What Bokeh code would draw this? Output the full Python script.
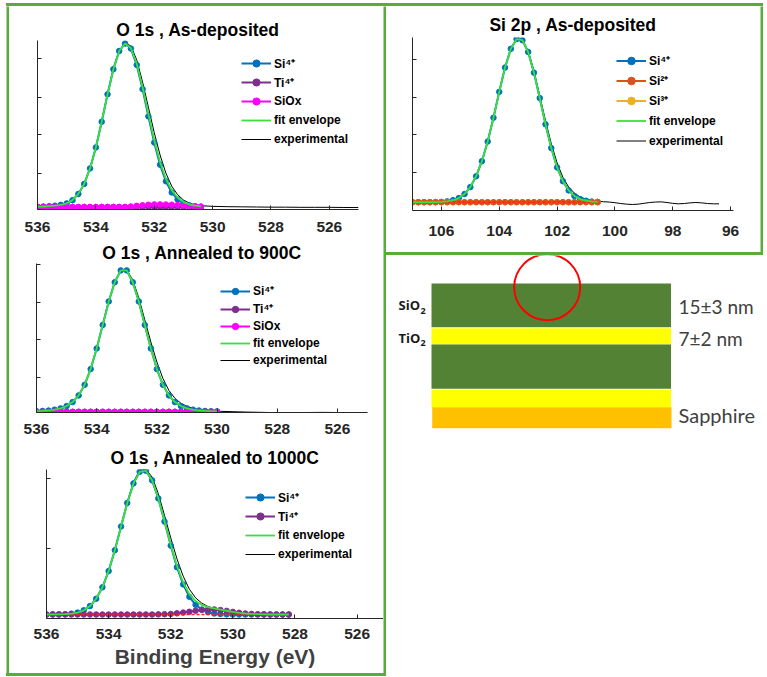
import numpy as np
from bokeh.plotting import figure
from bokeh.models import (Range1d, FixedTicker, CustomJSTickFormatter, Legend,
                          LegendItem, Spacer, Div)
from bokeh.layouts import row, column
from bokeh.embed import file_html
from bokeh.resources import INLINE
from bokeh.core.properties import value
from bokeh.core.validation import silence
from bokeh.core.validation.warnings import MISSING_RENDERERS

silence(MISSING_RENDERERS, True)

# ------------------------------------------------------------------ data
# O 1s, As-deposited
asdep_title = "O 1s , As-deposited"
asdep_be = [536.0, 535.8, 535.6, 535.4, 535.2, 535.0, 534.8, 534.6, 534.4, 534.2,
            534.0, 533.8, 533.6, 533.4, 533.2, 533.0, 532.8, 532.6, 532.4, 532.2,
            532.0, 531.8, 531.6, 531.4, 531.2, 531.0, 530.8, 530.6, 530.4]
asdep_si4 = [0.002, 0.003, 0.005, 0.008, 0.013, 0.022, 0.042, 0.080, 0.141, 0.236,
             0.364, 0.521, 0.689, 0.843, 0.954, 1.000, 0.969, 0.869, 0.721, 0.554,
             0.394, 0.259, 0.157, 0.089, 0.046, 0.022, 0.010, 0.004, 0.002]
asdep_ti4 = [0.0, 0.0, 0.0, 0.0, 0.0, 0.0, 0.0, 0.0, 0.0, 0.0,
             0.0, 0.0, 0.0, 0.0, 0.0, 0.0, 0.0, 0.0, 0.0, 0.0,
             0.0, 0.0, 0.0, 0.0, 0.0, 0.0, 0.0, 0.0, 0.0]
asdep_siox = [0.0, 0.0, 0.0, 0.0, 0.0, 0.0, 0.0, 0.0, 0.0, 0.0,
              0.0, 0.0, 0.0, 0.0, 0.0, 0.0, 0.003, 0.007, 0.011, 0.014,
              0.016, 0.016, 0.015, 0.014, 0.012, 0.009, 0.006, 0.004, 0.002]
asdep_exp_be = [536.0, 535.8, 535.6, 535.4, 535.2, 535.0, 534.8, 534.6, 534.4, 534.2,
                534.0, 533.8, 533.6, 533.4, 533.2, 533.0, 532.8, 532.6, 532.4, 532.2,
                532.0, 531.8, 531.6, 531.4, 531.2, 531.0, 530.8, 530.6, 530.4,
                530.0, 529.5, 529.0, 528.5, 528.0, 527.5, 527.0, 526.5, 526.0, 525.5, 525.0]
asdep_exp = [0.002, 0.003, 0.005, 0.008, 0.013, 0.022, 0.042, 0.080, 0.141, 0.236,
             0.364, 0.521, 0.690, 0.845, 0.957, 1.003, 0.985, 0.900, 0.765, 0.610,
             0.455, 0.318, 0.207, 0.127, 0.076, 0.043, 0.024, 0.013, 0.008,
             0.004, 0.002, 0.001, 0.000, -0.001, -0.001, -0.002, -0.002, -0.002, -0.003, -0.003]

# O 1s, Annealed to 900C
a900_title = "O 1s , Annealed to 900C"
a900_be = [536.0, 535.8, 535.6, 535.4, 535.2, 535.0, 534.8, 534.6, 534.4, 534.2,
           534.0, 533.8, 533.6, 533.4, 533.2, 533.0, 532.8, 532.6, 532.4, 532.2,
           532.0, 531.8, 531.6, 531.4, 531.2, 531.0, 530.8, 530.6, 530.4, 530.2, 530.0]
a900_si4 = [0.004, 0.006, 0.009, 0.015, 0.024, 0.040, 0.068, 0.115, 0.190, 0.300,
            0.445, 0.610, 0.775, 0.910, 0.993, 0.993, 0.910, 0.775, 0.610, 0.445,
            0.300, 0.190, 0.115, 0.068, 0.040, 0.024, 0.015, 0.009, 0.006, 0.004, 0.003]
a900_ti4 = [0.0, 0.0, 0.0, 0.0, 0.0, 0.0, 0.0, 0.0, 0.0, 0.0,
            0.0, 0.0, 0.0, 0.0, 0.0, 0.0, 0.0, 0.0, 0.0, 0.0,
            0.0, 0.0, 0.0, 0.0, 0.0, 0.0, 0.0, 0.0, 0.0, 0.0, 0.0]
a900_siox = [0.0, 0.0, 0.0, 0.0, 0.0, 0.0, 0.0, 0.0, 0.0, 0.0,
             0.0, 0.0, 0.0, 0.0, 0.0, 0.0, 0.0, 0.0, 0.0, 0.0,
             0.0, 0.0, 0.0, 0.0, 0.0, 0.0, 0.0, 0.0, 0.0, 0.0, 0.0]
a900_exp_be = [536.0, 535.8, 535.6, 535.4, 535.2, 535.0, 534.8, 534.6, 534.4, 534.2,
               534.0, 533.8, 533.6, 533.4, 533.2, 533.0, 532.8, 532.6, 532.4, 532.2,
               532.0, 531.8, 531.6, 531.4, 531.2, 531.0, 530.8, 530.6, 530.4, 530.2, 530.0,
               529.5, 529.0, 528.5, 528.0, 527.5, 527.0, 526.5, 526.0, 525.5, 525.0]
a900_exp = [0.004, 0.006, 0.009, 0.015, 0.024, 0.040, 0.068, 0.115, 0.190, 0.300,
            0.445, 0.610, 0.775, 0.910, 0.995, 0.998, 0.925, 0.800, 0.645, 0.490,
            0.350, 0.235, 0.150, 0.095, 0.060, 0.038, 0.024, 0.015, 0.009, 0.006, 0.004,
            0.001, -0.002, -0.004, -0.006, -0.006, -0.005, -0.004, -0.005, -0.006, -0.006]

# O 1s, Annealed to 1000C
a1000_title = "O 1s , Annealed to 1000C"
a1000_be = [536.0, 535.8, 535.6, 535.4, 535.2, 535.0, 534.8, 534.6, 534.4, 534.2,
            534.0, 533.8, 533.6, 533.4, 533.2, 533.0, 532.8, 532.6, 532.4, 532.2,
            532.0, 531.8, 531.6, 531.4, 531.2, 531.0, 530.8, 530.6, 530.4, 530.2,
            530.0, 529.8, 529.6, 529.4, 529.2, 529.0, 528.8, 528.6, 528.4, 528.2]
a1000_si4 = [0.000, 0.001, 0.001, 0.002, 0.006, 0.013, 0.029, 0.058, 0.109, 0.188,
             0.300, 0.444, 0.608, 0.771, 0.906, 0.986, 0.994, 0.927, 0.802, 0.642,
             0.476, 0.327, 0.208, 0.122, 0.067, 0.034, 0.016, 0.007, 0.003, 0.001,
             0.0, 0.0, 0.0, 0.0, 0.0, 0.0, 0.0, 0.0, 0.0, 0.0]
a1000_ti4 = [0.0, 0.0, 0.0, 0.0, 0.0, 0.0, 0.0, 0.0, 0.0, 0.0,
             0.0, 0.0, 0.0, 0.0, 0.0, 0.0, 0.0, 0.0, 0.001, 0.002,
             0.004, 0.008, 0.013, 0.019, 0.026, 0.032, 0.035, 0.035, 0.031, 0.025,
             0.018, 0.012, 0.007, 0.004, 0.002, 0.001, 0.0, 0.0, 0.0, 0.0]
a1000_bg = [0.0, 0.0, 0.0, 0.0, 0.0, 0.0, 0.0, 0.0, 0.0, 0.0,
            0.0, 0.0, 0.0, 0.0, 0.0, 0.0, 0.0, 0.0, 0.0, 0.0,
            0.0, 0.0, 0.0, 0.0, 0.0, 0.0, 0.0, 0.0, 0.0, 0.0,
            0.0, 0.0, 0.0, 0.0, 0.0, 0.0, 0.0, 0.0, 0.0, 0.0]
a1000_exp = [0.000, 0.001, 0.001, 0.002, 0.006, 0.013, 0.029, 0.058, 0.109, 0.188,
             0.300, 0.444, 0.608, 0.775, 0.915, 0.998, 1.004, 0.950, 0.835, 0.685,
             0.530, 0.385, 0.265, 0.175, 0.115, 0.078, 0.055, 0.041, 0.032, 0.025,
             0.019, 0.014, 0.010, 0.007, 0.005, 0.004, 0.003, 0.002, 0.001, 0.000]

# Si 2p, As-deposited
si2p_title = "Si 2p , As-deposited"
si2p_be = [107.0, 106.8, 106.6, 106.4, 106.2, 106.0, 105.8, 105.6, 105.4, 105.2,
           105.0, 104.8, 104.6, 104.4, 104.2, 104.0, 103.8, 103.6, 103.4, 103.2,
           103.0, 102.8, 102.6, 102.4, 102.2, 102.0, 101.8, 101.6, 101.4, 101.2,
           101.0, 100.8, 100.6]
si2p_si4 = [0.000, 0.000, 0.000, 0.000, 0.001, 0.002, 0.005, 0.012, 0.025, 0.050,
            0.092, 0.158, 0.250, 0.370, 0.515, 0.673, 0.821, 0.935, 0.995, 0.988,
            0.916, 0.790, 0.635, 0.475, 0.330, 0.212, 0.128, 0.072, 0.038, 0.019,
            0.009, 0.004, 0.002]
si2p_si2 = [0.0, 0.0, 0.0, 0.0, 0.0, 0.0, 0.0, 0.0, 0.0, 0.0,
            0.0, 0.0, 0.0, 0.0, 0.0, 0.0, 0.0, 0.0, 0.0, 0.0,
            0.0, 0.0, 0.0, 0.0, 0.0, 0.0, 0.0, 0.0, 0.0, 0.0,
            0.0, 0.0, 0.0]
si2p_si3 = [0.0, 0.0, 0.0, 0.0, 0.0, 0.0, 0.0, 0.0, 0.0, 0.0,
            0.0, 0.0, 0.0, 0.0, 0.0, 0.0, 0.0, 0.0, 0.0, 0.0,
            0.0, 0.0, 0.0, 0.0, 0.0, 0.0, 0.0, 0.0, 0.0, 0.0,
            0.0, 0.0, 0.0]
si2p_bg = [0.0, 0.0, 0.0, 0.0, 0.0, 0.0, 0.0, 0.0, 0.0, 0.0,
           0.0, 0.0, 0.0, 0.0, 0.0, 0.0, 0.0, 0.0, 0.0, 0.0,
           0.0, 0.0, 0.0, 0.0, 0.0, 0.0, 0.0, 0.0, 0.0, 0.0,
           0.0, 0.0, 0.0]
si2p_exp_be = [107.0, 106.8, 106.6, 106.4, 106.2, 106.0, 105.8, 105.6, 105.4, 105.2,
               105.0, 104.8, 104.6, 104.4, 104.2, 104.0, 103.8, 103.6, 103.4, 103.2,
               103.0, 102.8, 102.6, 102.4, 102.2, 102.0, 101.8, 101.6, 101.4, 101.2,
               101.0, 100.8, 100.6, 100.4, 100.2, 100.0, 99.8, 99.6, 99.4, 99.2,
               99.0, 98.8, 98.6, 98.4, 98.2, 98.0, 97.8, 97.6, 97.4, 97.2,
               97.0, 96.8, 96.6, 96.4]
si2p_exp = [0.000, 0.000, 0.000, 0.000, 0.001, 0.002, 0.005, 0.012, 0.025, 0.050,
            0.092, 0.158, 0.250, 0.370, 0.515, 0.673, 0.821, 0.935, 0.995, 0.990,
            0.922, 0.800, 0.648, 0.497, 0.356, 0.240, 0.152, 0.092, 0.055, 0.032,
            0.018, 0.010, 0.006, 0.003, 0.001, -0.003, -0.008, -0.012, -0.014, -0.012,
            -0.007, -0.002, 0.001, 0.002, -0.002, -0.007, -0.010, -0.008, -0.004, -0.002,
            -0.004, -0.008, -0.010, -0.010]

o1s_ticks = [536, 534, 532, 530, 528, 526]
si2p_ticks = [106, 104, 102, 100, 98, 96]
x_label = "Binding Energy (eV)"

# layer stack schematic
layer_names = ["SiO2", "TiO2", "SiO2", "TiO2", "Sapphire"]
layer_colors = ["#548235", "#FFFF00", "#548235", "#FFFF00", "#FFC000"]
stack_labels = ["SiO", "TiO"]
thickness_labels = ["15\u00b13 nm", "7\u00b12 nm"]
substrate_label = "Sapphire"

# ------------------------------------------------------------------ style
FONT = "Liberation Sans"
AX = "#262626"
FRAME_GREEN = "#58AC3A"
ENV = "#3CE03C"
BLUE = "#0072BD"
PURPLE = "#7E2F8E"
MAGENTA = "#FF00FF"
ORANGE = "#D95319"
YELLOW = "#EDB120"
RED = "#FF2020"
TICK_SIZE = "15.5px"


def no_align(fig):
    try:
        fig.frame_align = False
    except Exception:
        pass


def panel(title, be, comps, exp_be, exp_vals, xr, yr, xticks, yticks, w, h, mb,
          leg_xy, leg_gh, title_standoff, tick_standoff, draw_order=None, bg=None,
          xlabel=None):
    left, right, top, bottom = mb
    p = figure(width=w, height=h, x_range=Range1d(xr[0], xr[1]),
               y_range=Range1d(yr[0], yr[1]), output_backend="svg",
               toolbar_location=None, min_border_left=left, min_border_right=right,
               min_border_top=top, min_border_bottom=bottom)
    no_align(p)
    p.outline_line_color = None
    p.xgrid.visible = False
    p.ygrid.visible = False
    r_exp = p.line(exp_be, exp_vals, line_color="black", line_width=1)
    order = draw_order if draw_order is not None else list(range(len(comps)))
    rends = {}
    for i in order:
        name, vals, color = comps[i]
        rl = p.line(be, vals, line_color=color, line_width=2)
        rs = p.scatter(be, vals, marker="circle", size=5.5, fill_color=color,
                       line_color=color)
        rends[i] = [rl, rs]
    if bg is not None:
        p.line(be, bg, line_color=RED, line_width=1.5, line_dash="3 2")
    env = np.sum(np.array([np.array(c[1]) for c in comps]), axis=0)
    r_env = p.line(be, env.tolist(), line_color=ENV, line_width=1.8)

    items = [LegendItem(label=value(comps[i][0]), renderers=rends[i]) for i in range(len(comps))]
    items.append(LegendItem(label=value("fit envelope"), renderers=[r_env]))
    items.append(LegendItem(label=value("experimental"), renderers=[r_exp]))
    leg = Legend(items=items, location=leg_xy, glyph_width=30, glyph_height=leg_gh,
                 label_height=leg_gh, label_width=10, label_standoff=3, spacing=1,
                 padding=0, margin=0, border_line_color=None, background_fill_alpha=0,
                 label_text_font=FONT, label_text_font_style="bold",
                 label_text_font_size="12px", label_text_color="black")
    p.add_layout(leg)

    p.title.text = title
    p.title.align = "center"
    p.title.text_font = FONT
    p.title.text_font_size = "17.5px"
    p.title.text_font_style = "bold"
    p.title.text_color = "black"
    p.title.text_line_height = 1.0
    p.title.standoff = title_standoff

    xa = p.xaxis[0]
    ya = p.yaxis[0]
    xa.ticker = FixedTicker(ticks=xticks)
    ya.ticker = FixedTicker(ticks=yticks)
    ya.formatter = CustomJSTickFormatter(code="return ''")
    ya.major_label_text_font_size = "0px"
    ya.major_label_standoff = 0
    ya.axis_label_standoff = 0
    for a in (xa, ya):
        a.axis_line_color = AX
        a.axis_line_width = 1
        a.major_tick_line_color = AX
        a.major_tick_in = 4
        a.major_tick_out = 0
        a.minor_tick_in = 0
        a.minor_tick_out = 0
        a.minor_tick_line_color = None
    xa.major_label_text_font = FONT
    xa.major_label_text_font_size = TICK_SIZE
    xa.major_label_text_font_style = "bold"
    xa.major_label_text_color = AX
    xa.major_label_text_line_height = 1.0
    xa.major_label_standoff = tick_standoff
    if xlabel:
        xa.axis_label = xlabel
        xa.axis_label_text_font = FONT
        xa.axis_label_text_font_size = "21px"
        xa.axis_label_text_font_style = "bold"
        xa.axis_label_text_color = "#404040"
        xa.axis_label_text_line_height = 1.0
        xa.axis_label_standoff = 3
    return p


p1 = panel(asdep_title, asdep_be,
           [("Si\u2074\u207a", asdep_si4, BLUE), ("Ti\u2074\u207a", asdep_ti4, PURPLE),
            ("SiOx", asdep_siox, MAGENTA)],
           asdep_exp_be, asdep_exp, (536, 525), (-0.0153, 1.0183), o1s_ticks,
           [0.202, 0.442, 0.669, 0.908], 374, 233, (28, 25, 34, 30), (204, 61), 18,
           2, 12)

p2 = panel(a900_title, a900_be,
           [("Si\u2074\u207a", a900_si4, BLUE), ("Ti\u2074\u207a", a900_ti4, PURPLE),
            ("SiOx", a900_siox, MAGENTA)],
           a900_exp_be, a900_exp, (536, 525), (-0.0049, 1.0416), o1s_ticks,
           [0.238, 0.505, 0.771, 1.038], 374, 202, (27, 16, 22, 29), (184, 44), 16,
           2, 11)

p3 = panel(a1000_title, a1000_be,
           [("Si\u2074\u207a", a1000_si4, BLUE), ("Ti\u2074\u207a", a1000_ti4, PURPLE)],
           a1000_be, a1000_exp, (536, 525.15), (-0.0276, 1.002), o1s_ticks,
           [0.454, 0.942], 374, 232, (37, 0, 28, 55), (199, 55), 18,
           4, 10, bg=a1000_bg, xlabel=x_label)

p4 = panel(si2p_title, si2p_be,
           [("Si\u2074\u207a", si2p_si4, BLUE), ("Si\u00b2\u207a", si2p_si2, ORANGE),
            ("Si\u00b3\u207a", si2p_si3, YELLOW)],
           si2p_exp_be, si2p_exp, (107, 95.9), (-0.0506, 1.0043), si2p_ticks,
           [0.179, 0.411, 0.637, 0.868], 374, 246, (26, 27, 31, 42), (204, 60), 19,
           5, 15, draw_order=[0, 2, 1], bg=si2p_bg)

# ------------------------------------------------------------------ schematic
d = figure(width=377, height=419, x_range=Range1d(0, 377), y_range=Range1d(0, 419),
           x_axis_type=None, y_axis_type=None, min_border=0, toolbar_location=None,
           output_backend="svg", title=None)
no_align(d)
d.outline_line_color = None
layer_left = [45, 45, 45, 45, 45.7]
layer_right = [284.5, 284.5, 284.5, 284.5, 285]
layer_top = [391, 346.3, 330, 284.7, 267.3]
layer_bottom = [347.3, 330, 285.7, 267.3, 246.3]
d.quad(left=layer_left, right=layer_right, top=layer_top, bottom=layer_bottom,
       fill_color=layer_colors, line_color=None)
d.ellipse(x=[160.7], y=[387.3], width=66, height=66, fill_color=None,
          line_color="#FF0000", line_width=2)
d.text(x=[12, 12], y=[369.5, 336.5], text=stack_labels, text_font=value("Open Sans"),
       text_font_size="13px", text_font_style="bold", text_color="#1a1a1a",
       text_baseline="middle", text_align="left")
d.text(x=[34, 34], y=[363.5, 331.5], text=["2", "2"], text_font=value("Open Sans"),
       text_font_size="9px", text_font_style="bold", text_color="#1a1a1a",
       text_baseline="middle", text_align="left")
d.text(x=[292, 292], y=[368, 336], text=thickness_labels, text_font=value("Lato"),
       text_font_size="19px", text_color="#404040", text_baseline="middle",
       text_align="left")
d.text(x=[292], y=[260], text=[substrate_label], text_font=value("Lato"),
       text_font_size="20px", text_color="#404040", text_baseline="middle",
       text_align="left")


# ------------------------------------------------------------------ frames
def vbar(w, h):
    b = figure(width=w, height=h, toolbar_location=None, output_backend="svg",
               x_axis_type=None, y_axis_type=None, min_border=0, title=None)
    no_align(b)
    b.outline_line_color = None
    b.background_fill_color = FRAME_GREEN
    b.border_fill_color = FRAME_GREEN
    return b


def hbar(w, h):
    return Div(text="", width=w, height=h, margin=0,
               styles={"background-color": FRAME_GREEN})


left_block = column(hbar(380, 3),
                    row(vbar(3, 667), column(p1, p2, p3), vbar(3, 667)),
                    hbar(380, 3))
right_block = column(hbar(377, 3), row(p4, vbar(3, 246)), hbar(377, 3), d)
layout = column(Spacer(width=763, height=3),
                row(Spacer(width=6, height=673), left_block, right_block))

open("out.html", "w").write(file_html(layout, INLINE))
